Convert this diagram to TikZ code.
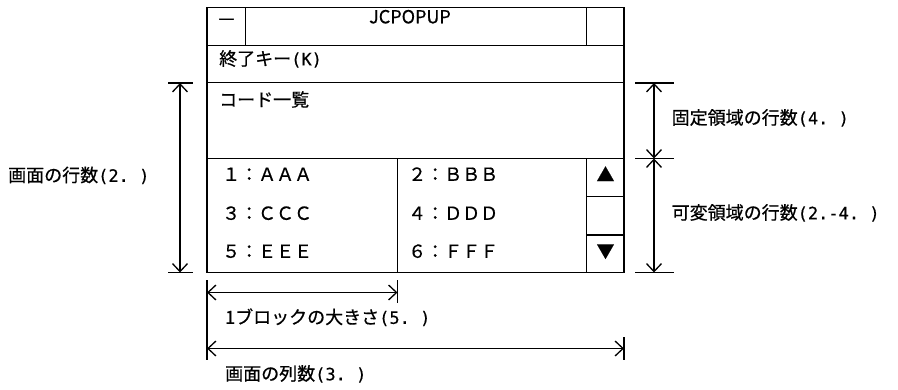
\documentclass[tikz,border=0pt]{standalone}
\usepackage{fontspec}
\setmainfont{Noto Sans CJK JP}[FakeBold=0.6]
\newfontfamily\hankaku{DejaVu Sans Mono}[FakeBold=0.3]
\newcommand{\hk}[1]{{\hankaku\fontsize{17}{17}\selectfont #1}}
\usetikzlibrary{arrows.meta}

\begin{document}
\begin{tikzpicture}[x=1pt,y=-1pt,
  frame/.style={line width=1.9pt},
  txt/.style={anchor=west,inner sep=0pt,text height=0.88em,text depth=0.12em,
    font=\fontsize{18}{18}\selectfont},
  dimline/.style={line width=1.3pt,
    {Straight Barb[length=8pt,width=15pt]}-{Straight Barb[length=8pt,width=15pt]}},
  tick/.style={line width=1.3pt}]
  \useasboundingbox (0,0) rectangle (898,389);
  % the popup window
  \draw[frame] (207,7.5) rectangle (624,272.5);
  \draw[frame] (245.5,7.5) -- (245.5,45.5) (586.5,7.5) -- (586.5,45.5);
  \draw[frame] (207,45.5) -- (624,45.5) (207,82.5) -- (624,82.5) (207,158.5) -- (624,158.5);
  \draw[frame] (397.5,158.5) -- (397.5,272.5) (586.5,158.5) -- (586.5,272.5);
  \draw[frame] (586.5,196.5) -- (624,196.5) (586.5,235) -- (624,235);
  \node[txt,anchor=center] (minus) at (226.5,20.5) {—};
  \node[txt,anchor=center] (title) at (410,19.5) {JCPOPUP};
  \node[txt] (quit) at (219,61.5) {終了キー\hk{(K)}};
  \node[txt] (list) at (219,102.5) {コード一覧};
  \node[txt] (c1) at (222,177) {１：ＡＡＡ};
  \node[txt] (c2) at (408,177) {２：ＢＢＢ};
  \node[txt] (c3) at (222,216) {３：ＣＣＣ};
  \node[txt] (c4) at (408,216) {４：ＤＤＤ};
  \node[txt] (c5) at (222,254) {５：ＥＥＥ};
  \node[txt] (c6) at (408,254) {６：ＦＦＦ};
  \node[txt,anchor=center] (up) at (605.5,177.5) {▲};
  \node[txt,anchor=center] (down) at (605.5,254) {▼};
  % rows of the screen
  \coordinate (rtop) at (180,83);
  \coordinate (rbot) at (180,272.5);
  \draw[tick] (168,83) -- (193,83) (168,272.5) -- (193,272.5);
  \draw[dimline] (rtop) -- (rbot);
  \node[txt] (rows) at (8,178) {画面の行数\hk{(2.\ )}};
  % fixed and variable area
  \coordinate (ftop) at (654,83);
  \coordinate (fmid) at (654,158.5);
  \coordinate (fbot) at (654,272.5);
  \draw[tick] (635,83) -- (674,83) (635,158.5) -- (674,158.5) (635,272.5) -- (674,272.5);
  \draw[dimline] (ftop) -- (fmid);
  \draw[dimline] (fmid) -- (fbot);
  \node[txt] (fixed) at (671.5,120.5) {固定領域の行数\hk{(4.\ )}};
  \node[txt] (var) at (671.5,215.5) {可変領域の行数\hk{(2.-4.\ )}};
  % block and columns
  \coordinate (bl) at (207,292.5);
  \coordinate (br) at (397.5,292.5);
  \coordinate (sl) at (207,348.5);
  \coordinate (sr) at (624,348.5);
  \draw[tick] (207,280) -- (207,360) (397.5,280) -- (397.5,303) (624,337) -- (624,360);
  \draw[dimline] (bl) -- (br);
  \draw[dimline] (sl) -- (sr);
  \node[txt] (block) at (225,320) {1ブロックの大きさ\hk{(5.\ )}};
  \node[txt] (cols) at (225,376.5) {画面の列数\hk{(3.\ )}};
\end{tikzpicture}
\end{document}
